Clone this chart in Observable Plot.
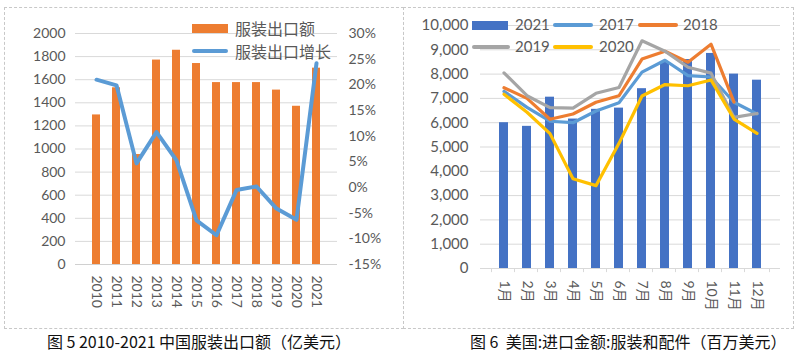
<!DOCTYPE html>
<html>
<head>
<meta charset="utf-8">
<script src="https://cdn.jsdelivr.net/npm/d3@7"></script>
<script src="https://cdn.jsdelivr.net/npm/@observablehq/plot@0.6"></script>
<style>
  html, body { margin: 0; padding: 0; background: #fff; }
  #root { position: relative; width: 805px; height: 355px; overflow: hidden; font-family: Lato, "Noto Sans CJK SC", sans-serif; }
  .panel { position: absolute; top: 0; }
  .box { position: absolute; border: 1px dashed #c8c8c8; box-sizing: border-box; }
  .lg { position: absolute; color: #595959; white-space: nowrap; line-height: 1; }
  .sw { position: absolute; }
  .cap { position: absolute; top: 331px; font-family: "Noto Sans CJK SC", sans-serif; font-size: 16px; color: #111; white-space: pre; line-height: 20px; }
</style>
</head>
<body>
<div id="root"></div>
<script>
// ---------- data: left chart ----------
const years = ["2010","2011","2012","2013","2014","2015","2016","2017","2018","2019","2020","2021"];
const exportValue = [1295, 1530, 952, 1770, 1855, 1740, 1575, 1575, 1575, 1510, 1370, 1700];
const exportGrowth = [21.0, 19.9, 4.7, 10.8, 5.3, -6.4, -9.3, -0.5, 0.2, -4.1, -6.3, 24.2];
const leftTicks = [0, 200, 400, 600, 800, 1000, 1200, 1400, 1600, 1800, 2000];
const pctTicks = [-15, -10, -5, 0, 5, 10, 15, 20, 25, 30];
const leftLegend = ["服装出口额", "服装出口增长"];
const leftCaption = "图 5 2010-2021 中国服装出口额（亿美元）";

// ---------- data: right chart ----------
const months = ["1月","2月","3月","4月","5月","6月","7月","8月","9月","10月","11月","12月"];
const us2021 = [6000, 5850, 7050, 6150, 6550, 6600, 7400, 8500, 8600, 8850, 8000, 7750];
const us2017 = [7290, 6630, 6060, 6000, 6480, 6820, 8080, 8570, 7940, 7880, 6840, 6360];
const us2018 = [7440, 7000, 6140, 6360, 6840, 7110, 8620, 8940, 8490, 9230, 6850, null];
const us2019 = [8050, 7110, 6620, 6600, 7210, 7450, 9370, 8940, 8280, 8040, 6220, 6380];
const us2020 = [7170, 6430, 5550, 3690, 3410, 5150, 7100, 7570, 7520, 7760, 6150, 5560];
const rightTicks = [0, 1000, 2000, 3000, 4000, 5000, 6000, 7000, 8000, 9000, 10000];
const rightCaption = "图 6  美国:进口金额:服装和配件（百万美元）";

const C = {bar1: "#ed7d31", line1: "#5b9bd5", b21: "#4472c4", l17: "#5b9bd5", l18: "#ed7d31", l19: "#a5a5a5", l20: "#ffc000", txt: "#595959", grid: "#d9d9d9"};

const root = document.getElementById("root");

// ---------- left chart ----------
const pMin = -15, pMax = 30, vMax = 2000;
const toY = g => (g - pMin) / (pMax - pMin) * vMax;
const pctLabel = new Map(pctTicks.map(p => [toY(p), p + "%"]));
const leftData = years.map((y, i) => ({year: y, value: exportValue[i], growth: exportGrowth[i]}));

const left = Plot.plot({
  width: 403, height: 330,
  marginLeft: 75, marginRight: 66, marginTop: 33, marginBottom: 66,
  style: {fontFamily: "Lato, 'Noto Sans CJK SC', sans-serif", fontSize: "14px", color: C.txt, background: "transparent"},
  x: {domain: years, padding: 0.6, axis: null},
  y: {domain: [0, vMax], axis: null},
  marks: [
    Plot.gridY(leftTicks, {stroke: C.grid, strokeOpacity: 1}),
    Plot.barY(leftData, {x: "year", y: "value", fill: C.bar1}),
    Plot.ruleY([0], {stroke: "#d0d0d0"}),
    Plot.line(leftData, {x: "year", y: d => toY(d.growth), stroke: C.line1, strokeWidth: 4, strokeLinejoin: "round"}),
    Plot.axisY(leftTicks, {anchor: "left", tickSize: 0, tickPadding: 10, label: null, tickFormat: d => String(d), fill: C.txt, fontSize: 14}),
    Plot.axisY(pctTicks.map(toY), {anchor: "right", tickSize: 0, tickPadding: 11, label: null, tickFormat: v => pctLabel.get(v), fill: C.txt, fontSize: 14}),
    Plot.axisX({tickSize: 0, tickPadding: 11, tickRotate: 90, label: null, fill: C.txt, fontSize: 14})
  ]
});
left.classList.add("panel");
left.style.left = "0px";
root.appendChild(left);

// ---------- right chart ----------
const rightData = months.map((m, i) => ({month: m, v21: us2021[i], v17: us2017[i], v18: us2018[i], v19: us2019[i], v20: us2020[i]}));
const bandStep = 300 / months.length;
const lineOpts = (key, color) => Plot.line(rightData.filter(d => d[key] != null), {x: "month", y: key, stroke: color, strokeWidth: 3.2, strokeLinejoin: "round"});

const right = Plot.plot({
  width: 390, height: 330,
  marginLeft: 77, marginRight: 13, marginTop: 25, marginBottom: 62,
  style: {fontFamily: "Lato, 'Noto Sans CJK SC', sans-serif", fontSize: "14px", color: C.txt, background: "transparent"},
  x: {domain: months, padding: 0.6, axis: null},
  y: {domain: [0, 10000], axis: null},
  marks: [
    Plot.gridY(rightTicks, {stroke: C.grid, strokeOpacity: 1}),
    Plot.barY(rightData, {x: "month", y: "v21", fill: C.b21}),
    lineOpts("v17", C.l17),
    lineOpts("v18", C.l18),
    lineOpts("v19", C.l19),
    lineOpts("v20", C.l20),
    Plot.ruleY([0], {stroke: C.grid}),
    Plot.ruleX(months, {x: d => d, dx: -bandStep / 2, y1: 0, y2: -170, stroke: C.grid}),
    Plot.ruleX([months[months.length - 1]], {x: d => d, dx: bandStep / 2, y1: 0, y2: -170, stroke: C.grid}),
    Plot.axisY(rightTicks, {anchor: "left", tickSize: 0, tickPadding: 12, label: null, tickFormat: d3.format(","), fill: C.txt, fontSize: 15}),
    Plot.axisX({tickSize: 0, tickPadding: 12, tickRotate: 90, label: null, fill: C.txt, fontSize: 14})
  ]
});
right.classList.add("panel");
right.style.left = "403px";
root.appendChild(right);

// ---------- borders ----------
function addDiv(cls, css, text) {
  const d = document.createElement("div");
  d.className = cls;
  Object.assign(d.style, css);
  if (text != null) d.textContent = text;
  root.appendChild(d);
  return d;
}
addDiv("box", {left: "4px", top: "7px", width: "400px", height: "322px"});
addDiv("box", {left: "403px", top: "7px", width: "391px", height: "322px"});

// ---------- left legend ----------
addDiv("sw", {left: "192px", top: "24px", width: "36px", height: "9px", background: C.bar1});
addDiv("lg", {left: "235px", top: "20px", fontSize: "16px", fontFamily: "'Noto Sans CJK SC', sans-serif"}, leftLegend[0]);
addDiv("sw", {left: "192px", top: "49px", width: "36px", height: "4px", background: C.line1, borderRadius: "2px"});
addDiv("lg", {left: "235px", top: "43px", fontSize: "16px", fontFamily: "'Noto Sans CJK SC', sans-serif"}, leftLegend[1]);

// ---------- right legend ----------
const rl = [
  {name: "2021", color: C.b21, bar: true, sx: 472, sw: 36, tx: 515, cy: 25},
  {name: "2017", color: C.l17, sx: 553, sw: 40, tx: 599, cy: 25},
  {name: "2018", color: C.l18, sx: 638, sw: 40, tx: 683, cy: 25},
  {name: "2019", color: C.l19, sx: 472, sw: 38, tx: 515, cy: 47},
  {name: "2020", color: C.l20, sx: 553, sw: 40, tx: 599, cy: 47}
];
for (const e of rl) {
  if (e.bar) addDiv("sw", {left: e.sx + "px", top: (e.cy - 4.5) + "px", width: e.sw + "px", height: "9px", background: e.color});
  else addDiv("sw", {left: e.sx + "px", top: (e.cy - 2) + "px", width: e.sw + "px", height: "4px", background: e.color, borderRadius: "2px"});
  addDiv("lg", {left: e.tx + "px", top: (e.cy - 8) + "px", fontSize: "15px"}, e.name);
}

// ---------- captions ----------
addDiv("cap", {left: "0px", width: "398px", textAlign: "center"}, leftCaption);
addDiv("cap", {left: "470px"}, rightCaption);
</script>
</body>
</html>
